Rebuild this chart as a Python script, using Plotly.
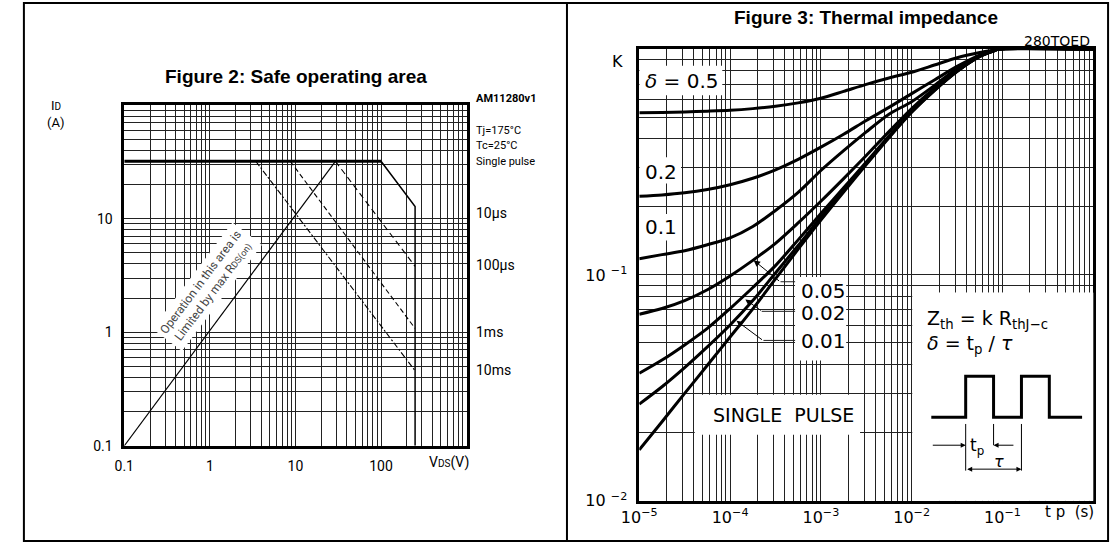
import plotly.graph_objects as go

W, H = 1112, 554


def P(x, y):
    """pixel position -> paper fraction"""
    return x / W, 1 - y / H


# ---------------- Figure 2 : Safe operating area ----------------
SOA_DC_V = [0.1, 100]
SOA_DC_I = [32, 32]
SOA_10US_V = [100, 250, 250]
SOA_10US_I = [32, 12.8, 0.1]
SOA_100US_V = [29.3, 250]
SOA_100US_I = [32, 3.8]
SOA_1MS_V = [8.7, 250]
SOA_1MS_I = [32, 1.08]
SOA_10MS_V = [3.44, 250]
SOA_10MS_I = [32, 0.458]
RDS_V = [0.1, 29.3]
RDS_I = [0.1, 32]
SOA_X_TICKS = [0.1, 1, 10, 100]
SOA_X_TEXT = ["0.1", "1", "10", "100"]
SOA_Y_TICKS = [0.1, 1, 10]
SOA_Y_TEXT = ["0.1", "1", "10"]

# ---------------- Figure 3 : Thermal impedance ----------------
TP = [1e-5, 1.78e-5, 3.16e-5, 5.62e-5, 1e-4, 1.78e-4, 3.16e-4, 5.62e-4,
      1e-3, 1.78e-3, 3.16e-3, 5.62e-3, 1e-2, 1.78e-2, 3.16e-2, 5.62e-2,
      7.94e-2, 9.1e-2, 1.0]
K_050 = [0.522, 0.524, 0.527, 0.531, 0.536, 0.545, 0.558, 0.578, 0.606, 0.650,
         0.698, 0.745, 0.790, 0.850, 0.915, 0.965, 0.990, 1.0, 1.0]
K_020 = [0.223, 0.226, 0.231, 0.239, 0.251, 0.268, 0.292, 0.325, 0.368, 0.420,
         0.483, 0.552, 0.635, 0.730, 0.838, 0.940, 0.985, 1.0, 1.0]
K_010 = [0.118, 0.123, 0.128, 0.136, 0.146, 0.164, 0.193, 0.232, 0.290, 0.355,
         0.430, 0.515, 0.585, 0.690, 0.820, 0.935, 0.984, 1.0, 1.0]
K_005 = [0.067, 0.071, 0.077, 0.086, 0.099, 0.116, 0.138, 0.170, 0.212, 0.267,
         0.338, 0.431, 0.545, 0.671, 0.806, 0.932, 0.982, 1.0, 1.0]
K_002 = [0.0367, 0.042, 0.049, 0.058, 0.071, 0.088, 0.110, 0.143, 0.187, 0.243,
         0.316, 0.412, 0.531, 0.660, 0.799, 0.929, 0.981, 1.0, 1.0]
K_001 = [0.0268, 0.032, 0.0389, 0.048, 0.060, 0.077, 0.102, 0.135, 0.180, 0.237,
         0.311, 0.408, 0.528, 0.657, 0.797, 0.928, 0.981, 1.0, 1.0]
K_SGL = [0.0168, 0.0224, 0.0299, 0.0398, 0.0531, 0.0708, 0.096, 0.130, 0.175, 0.233,
         0.308, 0.405, 0.525, 0.655, 0.795, 0.927, 0.980, 1.0, 1.0]
ZTH_X_TICKS = [1e-5, 1e-4, 1e-3, 1e-2, 1e-1]
ZTH_X_TEXT = ["10<sup>−5</sup>", "10<sup>−4</sup>", "10<sup>−3</sup>",
              "10<sup>−2</sup>", "10<sup>−1</sup>"]
ZTH_Y_TICKS = [0.01, 0.1]
ZTH_Y_TEXT = ["10 <sup>−2</sup>", "10 <sup>−1</sup>"]

# white label boxes on the thermal chart (tp range, K range)
BOXES = [
    ([1e-5, 8.2e-5], [0.625, 0.844]),
    ([1e-5, 2.88e-5], [0.254, 0.332]),
    ([1e-5, 2.88e-5], [0.142, 0.186]),
    ([5.19e-4, 1.9e-3], [0.0418, 0.098]),
    ([4.08e-5, 2.7e-3], [0.0196, 0.0295]),
    ([1.03e-2, 1.0], [0.01, 0.0835]),
]

# inset pulse schematic (normalised inset units)
WAVE_X = [0.105, 0.295, 0.295, 0.449, 0.449, 0.603, 0.603, 0.757, 0.757, 0.938]
WAVE_Y = [0.401, 0.401, 0.598, 0.598, 0.401, 0.401, 0.598, 0.598, 0.401, 0.401]

fig = go.Figure()

LFONT = "Roboto, Open Sans, sans-serif"
RFONT = "DejaVu Sans, sans-serif"
TFONT = "Liberation Sans, Arial, sans-serif"

# ---- white boxes first (cover grid) ----
for xs, ys in BOXES:
    fig.add_trace(go.Scatter(
        x=[xs[0], xs[1], xs[1], xs[0], xs[0]],
        y=[ys[0], ys[0], ys[1], ys[1], ys[0]],
        mode="lines", fill="toself", fillcolor="white",
        line=dict(width=0, color="white"),
        xaxis="x2", yaxis="y2", hoverinfo="skip", showlegend=False))


# ---- SOA traces ----
def soa(x, y, width, dash="solid"):
    fig.add_trace(go.Scatter(x=x, y=y, mode="lines",
                             line=dict(color="black", width=width, dash=dash),
                             xaxis="x", yaxis="y", hoverinfo="skip",
                             showlegend=False))


soa(SOA_DC_V, SOA_DC_I, 3.2)
soa(SOA_10US_V, SOA_10US_I, 1.5)
soa(SOA_100US_V, SOA_100US_I, 1.1, "6px,4px")
soa(SOA_1MS_V, SOA_1MS_I, 1.1, "5px,3px")
soa(SOA_10MS_V, SOA_10MS_I, 1.1, "6px,2px,2px,2px")
soa(RDS_V, RDS_I, 1.2)

# ---- thermal curves ----
for k in [K_050, K_020, K_010, K_005, K_002, K_001, K_SGL]:
    fig.add_trace(go.Scatter(x=TP, y=k, mode="lines",
                             line=dict(color="black", width=3, shape="spline",
                                       smoothing=0.8),
                             xaxis="x2", yaxis="y2", hoverinfo="skip",
                             showlegend=False))

# ---- leader lines (tp, K) ----
LEADERS = [
    ([3.59e-4, 5.2e-4], [0.0933, 0.0933]),
    ([2.23e-4, 5.2e-4], [0.069, 0.069]),
    ([2.33e-4, 5.2e-4], [0.0513, 0.0513]),
]
for lx, ly in LEADERS:
    fig.add_trace(go.Scatter(x=lx, y=ly, mode="lines",
                             line=dict(color="#222", width=1),
                             xaxis="x2", yaxis="y2", hoverinfo="skip",
                             showlegend=False))

# ---- inset pulse schematic ----
fig.add_trace(go.Scatter(x=WAVE_X, y=WAVE_Y, mode="lines",
                         line=dict(color="black", width=3),
                         xaxis="x3", yaxis="y3", hoverinfo="skip",
                         showlegend=False))
for xv, y0, y1 in [(0.295, 0.369, 0.145), (0.449, 0.369, 0.267), (0.603, 0.369, 0.145)]:
    fig.add_trace(go.Scatter(x=[xv, xv], y=[y0, y1], mode="lines",
                             line=dict(color="black", width=1),
                             xaxis="x3", yaxis="y3", hoverinfo="skip",
                             showlegend=False))


# ---------------- axes ----------------
def minors(d0, d1):
    return [k * 10 ** d for d in range(d0, d1) for k in range(2, 10)]


GRID = "#222"
common = dict(type="log", showline=True, mirror=True, linecolor="black",
              linewidth=2.5, showgrid=True, gridcolor=GRID, gridwidth=1,
              zeroline=False, ticks="", fixedrange=True)

fig.update_layout(
    width=W, height=H,
    margin=dict(l=0, r=0, t=0, b=0),
    paper_bgcolor="white", plot_bgcolor="white",
    showlegend=False,
    xaxis=dict(**common, domain=[108 / W, 456 / W], range=[-1, 3], anchor="y",
               tickvals=SOA_X_TICKS, ticktext=SOA_X_TEXT,
               tickfont=dict(family=LFONT, size=14, color="black"),
               ticklabelstandoff=6,
               minor=dict(tickvals=minors(-1, 3), showgrid=True,
                          gridcolor=GRID, gridwidth=1, ticks="")),
    yaxis=dict(**common, domain=[(H - 454) / H, (H - 107) / H], range=[-1, 2],
               anchor="x", tickvals=SOA_Y_TICKS, ticktext=SOA_Y_TEXT,
               tickfont=dict(family=LFONT, size=14, color="black"),
               ticklabelstandoff=6,
               minor=dict(tickvals=minors(-1, 2), showgrid=True,
                          gridcolor=GRID, gridwidth=1, ticks="")),
    xaxis2=dict(**common, domain=[631.5 / W, 1093 / W], range=[-5, 0],
                anchor="y2", tickvals=ZTH_X_TICKS, ticktext=ZTH_X_TEXT,
                tickfont=dict(family=RFONT, size=16, color="black"),
                ticklabelstandoff=0,
                minor=dict(tickvals=minors(-5, 0), showgrid=True,
                           gridcolor=GRID, gridwidth=1, ticks="")),
    yaxis2=dict(**common, domain=[(H - 510) / H, (H - 50) / H], range=[-2, 0],
                anchor="x2", tickvals=ZTH_Y_TICKS, ticktext=ZTH_Y_TEXT,
                tickfont=dict(family=RFONT, size=16, color="black"),
                ticklabelstandoff=6,
                minor=dict(tickvals=minors(-2, 0), showgrid=True,
                           gridcolor=GRID, gridwidth=1, ticks="")),
    xaxis3=dict(domain=[909 / W, 1093 / W], range=[0, 1], visible=False,
                anchor="y3", fixedrange=True),
    yaxis3=dict(domain=[(H - 510) / H, (H - 298) / H], range=[0, 1],
                visible=False, anchor="x3", fixedrange=True),
)

# ---------------- frame ----------------
fx0, fy0 = P(6, 551)
fx1, fy1 = P(1108, 3)
fig.add_shape(type="rect", xref="paper", yref="paper", x0=fx0, y0=fy0,
              x1=fx1, y1=fy1, line=dict(color="black", width=2), layer="above")
dx, _ = P(558, 0)
fig.add_shape(type="line", xref="paper", yref="paper", x0=dx, x1=dx,
              y0=fy0, y1=fy1, line=dict(color="black", width=2), layer="above")

# ---------------- annotations ----------------
ann = []


def txt(x, y, text, size, family, xanchor="center", color="black", **kw):
    px_, py_ = P(x, y)
    ann.append(dict(x=px_, y=py_, xref="paper", yref="paper", text=text,
                    showarrow=False, xanchor=xanchor, yanchor="middle",
                    font=dict(size=size, family=family, color=color), **kw))


# Figure 2 text
txt(283, 78, "<b>Figure 2: Safe operating area</b>", 19, TFONT)
txt(39, 107, "I<span style='font-size:10px'>D</span>", 13, LFONT)
txt(38, 125, "(A)", 13, LFONT)
txt(463, 100, "<b>AM11280v1</b>", 11, LFONT, xanchor="left")
txt(464, 133, "Tj=175°C", 11, LFONT, xanchor="left")
txt(464, 148, "Tc=25°C", 11, LFONT, xanchor="left")
txt(464, 164, "Single pulse", 11, LFONT, xanchor="left")
txt(463, 217, "10µs", 14, LFONT, xanchor="left")
txt(463, 270, "100µs", 14, LFONT, xanchor="left")
txt(463, 338, "1ms", 14, LFONT, xanchor="left")
txt(463, 377, "10ms", 14, LFONT, xanchor="left")
txt(438, 471, "V<span style='font-size:10px'>DS</span>(V)", 14, LFONT)
txt(192, 292, "Operation in this area is<br>Limited by max R<span style='font-size:9px'>DS(on)</span>",
    12, LFONT, color="#444", textangle=-53, bgcolor="white", borderpad=3)

# Figure 3 text
txt(862, 18, "<b>Figure 3: Thermal impedance</b>", 19, TFONT)
txt(609, 63, "K", 16, RFONT)
txt(1092, 42, "280TOED", 14, RFONT, xanchor="right")
txt(675, 82, "<i>δ</i> = 0.5", 20, RFONT)
txt(654, 175, "0.2", 20, RFONT)
txt(654, 231, "0.1", 20, RFONT)
txt(794, 296, "0.05", 20, RFONT, xanchor="left")
txt(794, 319, "0.02", 20, RFONT, xanchor="left")
txt(794, 347, "0.01", 20, RFONT, xanchor="left")
txt(778, 423, "SINGLE  PULSE", 19, RFONT)
txt(1069, 521, "t p  (s)", 15, RFONT)

# arrows pointing at the 0.05 / 0.02 / 0.01 curves
for hx, hy, ax, ay in [(747.7, 265, 27, 22), (739.3, 305, 17, 12), (730.3, 326.7, 27, 20)]:
    px_, py_ = P(hx, hy)
    ann.append(dict(x=px_, y=py_, xref="paper", yref="paper", text="",
                    showarrow=True, ax=ax, ay=ay, arrowhead=2, arrowsize=1.3,
                    arrowwidth=1, arrowcolor="black"))

# inset texts & dimension arrows
ann.append(dict(x=0.069, y=0.873, xref="x3", yref="y3", xanchor="left",
                text="Z<sub>th</sub> = k R<sub>thJ−c</sub>", showarrow=False,
                font=dict(size=19, family=RFONT, color="black")))
ann.append(dict(x=0.069, y=0.75, xref="x3", yref="y3", xanchor="left",
                text="<i>δ</i> = t<sub>p</sub> / <i>τ</i>", showarrow=False,
                font=dict(size=19, family=RFONT, color="black")))
ann.append(dict(x=0.36, y=0.262, xref="x3", yref="y3", text="t<sub>p</sub>",
                showarrow=False, font=dict(size=17, family=RFONT, color="black")))
ann.append(dict(x=0.48, y=0.19, xref="x3", yref="y3", text="<i>τ</i>",
                showarrow=False, font=dict(size=16, family=RFONT, color="black")))
for hx, hy, tx, ty, side in [(0.295, 0.267, 0.105, 0.267, "end"),
                             (0.449, 0.267, 0.567, 0.267, "end"),
                             (0.603, 0.152, 0.295, 0.152, "end+start")]:
    ann.append(dict(x=hx, y=hy, ax=tx, ay=ty, xref="x3", yref="y3",
                    axref="x3", ayref="y3", text="", showarrow=True,
                    arrowhead=2, arrowsize=1, arrowwidth=1, arrowside=side,
                    arrowcolor="black"))

fig.update_layout(annotations=ann)

fig.write_html("out.html", config={"displayModeBar": False},
               post_script="document.body.style.margin='0px';")
